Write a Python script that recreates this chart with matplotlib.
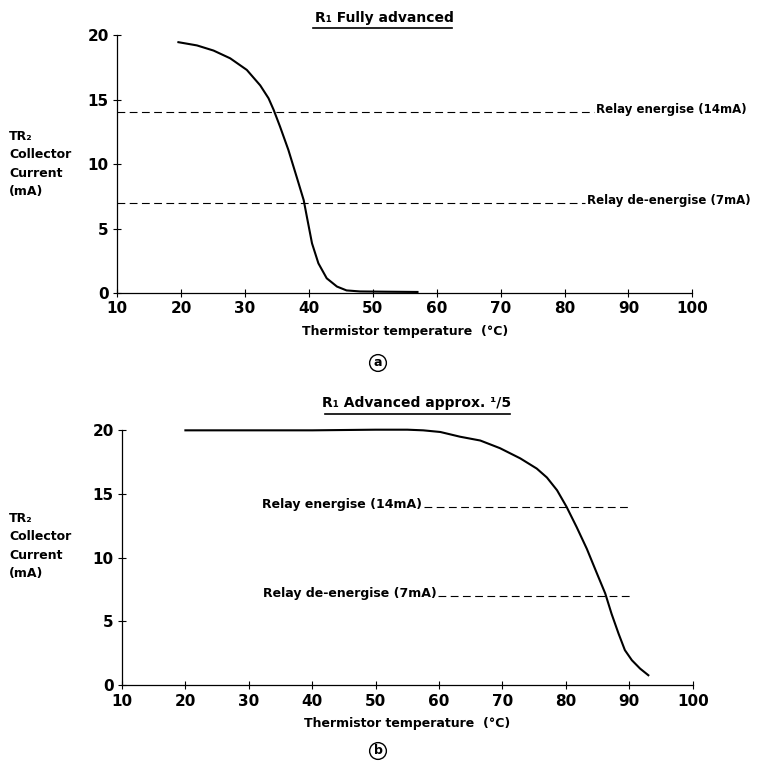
import matplotlib.pyplot as plt
from matplotlib.lines import Line2D

plt.rcParams['font.family'] = ['DejaVu Sans']
plt.rcParams['font.weight'] = 'bold'

# panel (a): R1 fully advanced
temp_a = [19.6, 22.5, 25.1, 27.7, 30.3, 32.4, 33.7, 34.5, 35.5, 36.8, 38.1, 39.2,
          39.7, 40.5, 41.5, 42.8, 44.4, 45.9, 48, 52, 57]
curr_a = [19.45, 19.2, 18.8, 18.2, 17.3, 16.1, 15.1, 14.2, 12.9, 11.1, 9.0, 7.2,
          5.9, 3.85, 2.3, 1.14, 0.5, 0.2, 0.12, 0.1, 0.08]

# panel (b): R1 advanced approx. 1/5
temp_b = [20, 30, 40, 50, 55, 57.5, 60.2, 63.3, 66.5, 69.6, 72.8, 75.4, 77.0,
          78.6, 80.1, 81.7, 83.3, 84.9, 86.2, 87.2, 88.3, 89.3, 90.4, 91.7, 93.0]
curr_b = [20.0, 20.0, 20.0, 20.05, 20.05, 20.0, 19.87, 19.5, 19.2, 18.6, 17.8,
          17.0, 16.3, 15.3, 14.0, 12.4, 10.7, 8.76, 7.2, 5.6, 4.05, 2.75, 1.96,
          1.3, 0.78]

relay_levels = [14, 7]
relay_labels = ['Relay energise (14mA)', 'Relay de-energise (7mA)']
relay_span_a = [(10, 84.6), (10, 83.2)]
relay_span_b = [(57.6, 90.0), (59.9, 90.5)]

x_ticks = [10, 20, 30, 40, 50, 60, 70, 80, 90, 100]
y_ticks = [0, 5, 10, 15, 20]

fig = plt.figure(figsize=(7.6, 7.63), dpi=100)
ax_a = fig.add_axes([0.154, 0.616, 0.757, 0.338])
ax_b = fig.add_axes([0.1605, 0.102, 0.751, 0.334])


def style_axes(ax):
    ax.set_xlim(10, 100)
    ax.set_ylim(0, 20)
    ax.spines['top'].set_visible(False)
    ax.spines['right'].set_visible(False)
    ax.spines['left'].set_linewidth(0.9)
    ax.spines['bottom'].set_linewidth(0.9)
    ax.set_xticks(x_ticks)
    ax.set_yticks(y_ticks)
    ax.tick_params(direction='inout', length=6, width=0.8, labelsize=11, pad=3)
    for lab in ax.get_xticklabels() + ax.get_yticklabels():
        lab.set_fontweight('bold')
    ax.set_xlabel('Thermistor temperature  (°C)', fontsize=9, fontweight='bold',
                  labelpad=6)


# panel (a)
style_axes(ax_a)
ax_a.plot(temp_a, curr_a, color='black', lw=1.5, clip_on=False,
          solid_joinstyle='round')
for lvl, lab, (x0, x1) in zip(relay_levels, relay_labels, relay_span_a):
    ax_a.plot([x0, x1], [lvl, lvl], color='black', lw=0.8, ls=(0, (7, 4)),
              clip_on=False)
    ax_a.text(x1 + 0.3, lvl + 0.2, lab, fontsize=8.5, fontweight='bold',
              ha='left', va='center')

# panel (b)
style_axes(ax_b)
ax_b.plot(temp_b, curr_b, color='black', lw=1.5, clip_on=False,
          solid_joinstyle='round')
for lvl, lab, (x0, x1) in zip(relay_levels, relay_labels, relay_span_b):
    ax_b.plot([x0, x1], [lvl, lvl], color='black', lw=0.8, ls=(0, (7, 4)),
              clip_on=False)
    ax_b.text(x0 - 0.3, lvl + 0.2, lab, fontsize=9, fontweight='bold',
              ha='right', va='center')

# titles with underline
fig.text(0.506, 1 - 18 / 763, 'R₁ Fully advanced', fontsize=10,
         fontweight='bold', ha='center', va='center')
fig.add_artist(Line2D([313 / 760, 452 / 760], [1 - 28 / 763, 1 - 28 / 763],
                      color='black', lw=1.2))
fig.text(0.548, 1 - 403 / 763, 'R₁ Advanced approx. ¹/5', fontsize=10,
         fontweight='bold', ha='center', va='center')
fig.add_artist(Line2D([325 / 760, 510 / 760], [1 - 414 / 763, 1 - 414 / 763],
                      color='black', lw=1.2))

# y-axis labels
for ytop in (130, 512):
    fig.text(0.012, 1 - ytop / 763, 'TR₂\nCollector\nCurrent\n(mA)',
             fontsize=9, fontweight='bold', ha='left', va='top', linespacing=1.55)

# panel markers
fig.text(378 / 760, 1 - 363 / 763, 'a', fontsize=9, fontweight='bold',
         ha='center', va='center',
         bbox=dict(boxstyle='circle,pad=0.15', fc='none', ec='black', lw=1.0))
fig.text(378 / 760, 1 - 751 / 763, 'b', fontsize=9, fontweight='bold',
         ha='center', va='center',
         bbox=dict(boxstyle='circle,pad=0.15', fc='none', ec='black', lw=1.0))

fig.savefig('out.png', dpi=100)
